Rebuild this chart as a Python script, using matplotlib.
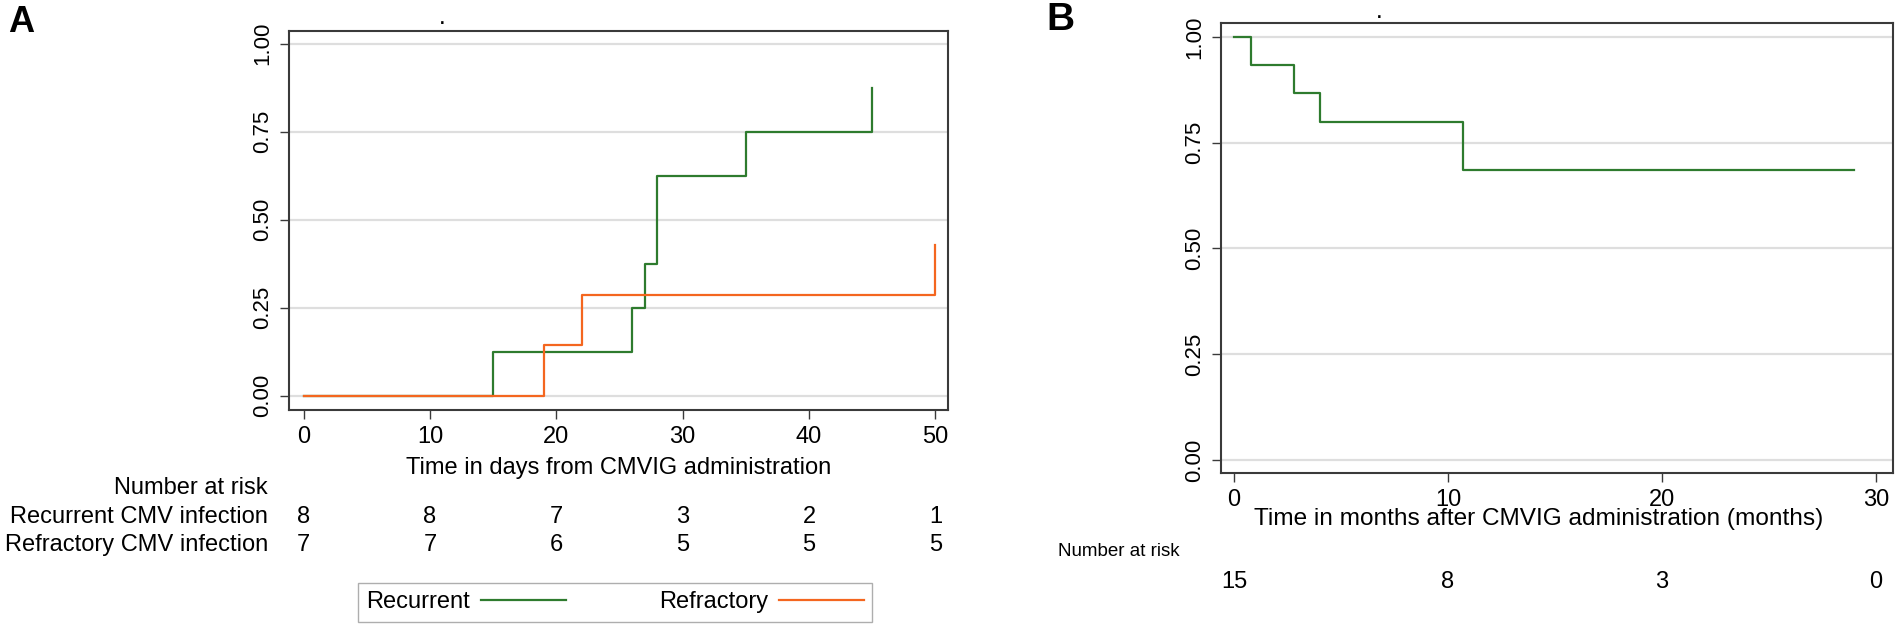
import matplotlib
matplotlib.use("Agg")
import matplotlib.pyplot as plt
from matplotlib.transforms import blended_transform_factory as blend

plt.rcParams['font.family'] = ['Liberation Sans', 'DejaVu Sans']

# ---------------- data ----------------
# Panel A: cumulative incidence (step functions)
rec_days = [0, 15, 26, 27, 28, 35, 45]
rec_vals = [0.0, 0.125, 0.25, 0.375, 0.625, 0.75, 0.875]
ref_days = [0, 19, 22, 50]
ref_vals = [0.0, 0.143, 0.286, 0.429]
a_xticks = [0, 10, 20, 30, 40, 50]
a_yticks = [0.0, 0.25, 0.5, 0.75, 1.0]
a_risk_rec = [8, 8, 7, 3, 2, 1]
a_risk_ref = [7, 7, 6, 5, 5, 5]
a_row_labels = ["Recurrent CMV infection", "Refractory CMV infection"]
a_legend = ["Recurrent", "Refractory"]

# Panel B: survival
b_months = [0, 0.8, 2.8, 4.0, 10.7, 29]
b_vals = [1.0, 0.933, 0.867, 0.8, 0.686, 0.686]
b_xticks = [0, 10, 20, 30]
b_yticks = [0.0, 0.25, 0.5, 0.75, 1.0]
b_risk = [15, 8, 3, 0]

GREEN = "#2e7b2e"
ORANGE = "#f4661f"
GRID = "#dedede"
SPINE = "#3a3a3a"
FS = 17

W, H = 1900, 630
fig = plt.figure(figsize=(W / 100, H / 100), dpi=100)


def fx(px):
    return px / W


def fy(py):
    return 1 - py / H


def axes_px(l, t, r, b):
    return fig.add_axes([fx(l), fy(b), (r - l) / W, (b - t) / H])


def style(ax, yticks):
    ax.set_yticks(yticks)
    ax.set_yticklabels([f"{v:.2f}" for v in yticks], rotation=90, va="center",
                       fontsize=16)
    ax.grid(axis="y", color=GRID, lw=1.6)
    ax.set_axisbelow(True)
    for s in ax.spines.values():
        s.set_color(SPINE)
        s.set_linewidth(1.5)
    ax.tick_params(axis="both", length=6.5, width=1.0, color=SPINE)
    ax.tick_params(axis="y", pad=5)
    ax.tick_params(axis="x", pad=5, labelsize=FS)


# ---------------- Panel A ----------------
axA = axes_px(289, 31, 948, 410)
axA.step(rec_days, rec_vals, where="post", color=GREEN, lw=1.6, label=a_legend[0])
axA.step(ref_days, ref_vals, where="post", color=ORANGE, lw=1.6, label=a_legend[1])
axA.set_xlim(-1.16, 51.0)
axA.set_ylim(-0.041, 1.036)
axA.set_xticks(a_xticks)
style(axA, a_yticks)
axA.set_xlabel("Time in days from CMVIG administration", fontsize=FS)
axA.xaxis.set_label_coords(0.5, fy(468), transform=blend(axA.transAxes, fig.transFigure))
axA.xaxis.label.set_va("center")

tA = blend(axA.transData, fig.transFigure)
fig.text(fx(268), fy(488), "Number at risk", ha="right", va="center", fontsize=FS)
fig.text(fx(268), fy(517), a_row_labels[0], ha="right", va="center", fontsize=FS)
fig.text(fx(268), fy(545), a_row_labels[1], ha="right", va="center", fontsize=FS)
for xv, n1, n2 in zip(a_xticks, a_risk_rec, a_risk_ref):
    axA.text(xv, fy(517), str(n1), transform=tA, ha="center", va="center", fontsize=FS)
    axA.text(xv, fy(545), str(n2), transform=tA, ha="center", va="center", fontsize=FS)

leg = axA.legend(loc="upper left",
                 bbox_to_anchor=(fx(358), fy(620), (872 - 358) / W, (620 - 583) / H),
                 bbox_transform=fig.transFigure, mode="expand", ncol=2,
                 markerfirst=False, frameon=True, fancybox=False, fontsize=FS,
                 handlelength=3.6, handletextpad=0.45, borderpad=0.35,
                 borderaxespad=0.0)
leg.get_frame().set_edgecolor("#9a9a9a")
leg.get_frame().set_linewidth(1.0)

fig.text(fx(8), fy(22), "A", fontsize=26, fontweight="bold", va="center", ha="left")
fig.text(fx(442), fy(20), ".", fontsize=12, ha="center", va="center", fontweight="bold")

# ---------------- Panel B ----------------
axB = axes_px(1221, 23, 1893, 473)
axB.step(b_months, b_vals, where="post", color=GREEN, lw=1.6)
axB.set_xlim(-0.61, 30.8)
axB.set_ylim(-0.031, 1.033)
axB.set_xticks(b_xticks)
style(axB, b_yticks)
axB.set_xlabel("Time in months after CMVIG administration (months)", fontsize=17.6)
axB.xaxis.set_label_coords(0.472, fy(519), transform=blend(axB.transAxes, fig.transFigure))
axB.xaxis.label.set_va("center")

tB = blend(axB.transData, fig.transFigure)
fig.text(fx(1058), fy(551), "Number at risk", ha="left", va="center", fontsize=13.5)
for xv, n in zip(b_xticks, b_risk):
    axB.text(xv, fy(582), str(n), transform=tB, ha="center", va="center", fontsize=FS)

fig.text(fx(1046), fy(20), "B", fontsize=28, fontweight="bold", va="center", ha="left")
fig.text(fx(1379), fy(14), ".", fontsize=12, ha="center", va="center", fontweight="bold")

fig.savefig("out.png", dpi=100)
